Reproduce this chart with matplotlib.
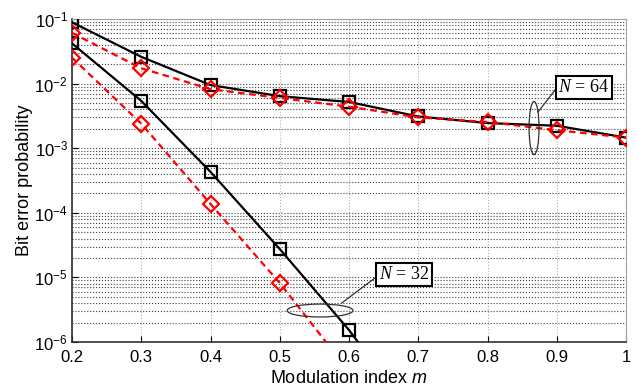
import numpy as np
import matplotlib
matplotlib.use("Agg")
import matplotlib.pyplot as plt
from matplotlib.patches import Ellipse

plt.rcParams['font.family'] = 'Liberation Sans'
plt.rcParams['mathtext.fontset'] = 'custom'
plt.rcParams['mathtext.rm'] = 'Liberation Sans'
plt.rcParams['mathtext.it'] = 'Liberation Sans:italic'
plt.rcParams['mathtext.cal'] = 'Liberation Serif:italic'

# modulation index
m = [0.2, 0.3, 0.4, 0.5, 0.6, 0.7, 0.8, 0.9, 1.0]
m32 = [0.2, 0.3, 0.4, 0.5, 0.6, 0.7]

# bit error probability
ber64_black = [0.089, 0.026, 0.0095, 0.0064, 0.0052, 0.0031, 0.00245, 0.00223, 0.00146]
ber64_red = [0.061, 0.0173, 0.0082, 0.0060, 0.0044, 0.0030, 0.00255, 0.0019, 0.00146]
ber32_black = [0.042, 0.0054, 4.3e-4, 2.75e-5, 1.53e-6, 5.7e-8]
ber32_red = [0.0252, 0.0024, 1.37e-4, 8.2e-6, 3.5e-7]

fig = plt.figure(figsize=(6.39, 3.91), dpi=100)
ax = fig.add_axes([0.1127, 0.1253, 0.867, 0.826])

ax.semilogy(m, ber64_black, color='black', lw=1.6, marker='s', ms=8,
            mfc='none', mec='black', mew=1.6, zorder=4)
ax.semilogy(m, ber64_red, color='red', lw=1.6, ls='--', dashes=(3, 2), marker='D',
            ms=8, mfc='none', mec='red', mew=1.6, zorder=5)
ax.semilogy(m32, ber32_black, color='black', lw=1.6, marker='s', ms=8,
            mfc='none', mec='black', mew=1.6, zorder=4)
ax.semilogy(m32[:5], ber32_red, color='red', lw=1.6, ls='--', dashes=(3, 2), marker='D',
            ms=8, mfc='none', mec='red', mew=1.6, zorder=5)

ax.set_xlim(0.2, 1.0)
ax.set_ylim(1e-6, 1e-1)
ax.set_xticks(np.arange(0.2, 1.01, 0.1))
ax.set_xticklabels(['0.2', '0.3', '0.4', '0.5', '0.6', '0.7', '0.8', '0.9', '1'])
ax.tick_params(axis='both', which='both', direction='in', labelsize=12, top=False, right=False)
ax.tick_params(axis='y', which='minor', length=0)
ax.tick_params(axis='both', which='major', length=4)
ax.tick_params(axis='x', which='major', pad=6)
ax.tick_params(axis='y', which='major', pad=3)

ax.grid(True, axis='x', which='major', ls=':', color='#b0b0b0', lw=0.8)
ax.grid(True, axis='y', which='both', ls=':', color='#404040', lw=0.8)
ax.set_axisbelow(True)

for s in ['top', 'right']:
    ax.spines[s].set_color('#a0a0a0')
for s in ['left', 'bottom']:
    ax.spines[s].set_color('#303030')
    ax.spines[s].set_linewidth(1.2)

ax.set_xlabel(r'Modulation index $m$', fontsize=13, labelpad=3)
ax.set_ylabel('Bit error probability', fontsize=13, labelpad=1)

# annotations
e32 = Ellipse((0.4477, 0.0975), 0.119, 0.040, transform=ax.transAxes,
              fill=False, ec='#303030', lw=0.9, zorder=6)
ax.add_patch(e32)
ax.plot([0.487, 0.549], [0.121, 0.201], transform=ax.transAxes, color='#303030', lw=0.9, zorder=6)
ax.text(0.599, 0.209, r'$\mathcal{N}$ = 32', transform=ax.transAxes, fontsize=13,
        family='Liberation Serif', ha='center', va='center', zorder=7,
        bbox=dict(boxstyle='square,pad=0.15', fc='white', ec='black', lw=1.5))

e64 = Ellipse((0.834, 0.6625), 0.018, 0.164, transform=ax.transAxes,
              fill=False, ec='#303030', lw=0.9, zorder=6)
ax.add_patch(e64)
ax.plot([0.841, 0.875], [0.712, 0.787], transform=ax.transAxes, color='#303030', lw=0.9, zorder=6)
ax.text(0.924, 0.788, r'$\mathcal{N}$ = 64', transform=ax.transAxes, fontsize=13,
        family='Liberation Serif', ha='center', va='center', zorder=7,
        bbox=dict(boxstyle='square,pad=0.15', fc='white', ec='black', lw=1.5))

fig.savefig('out.png', dpi=100)
